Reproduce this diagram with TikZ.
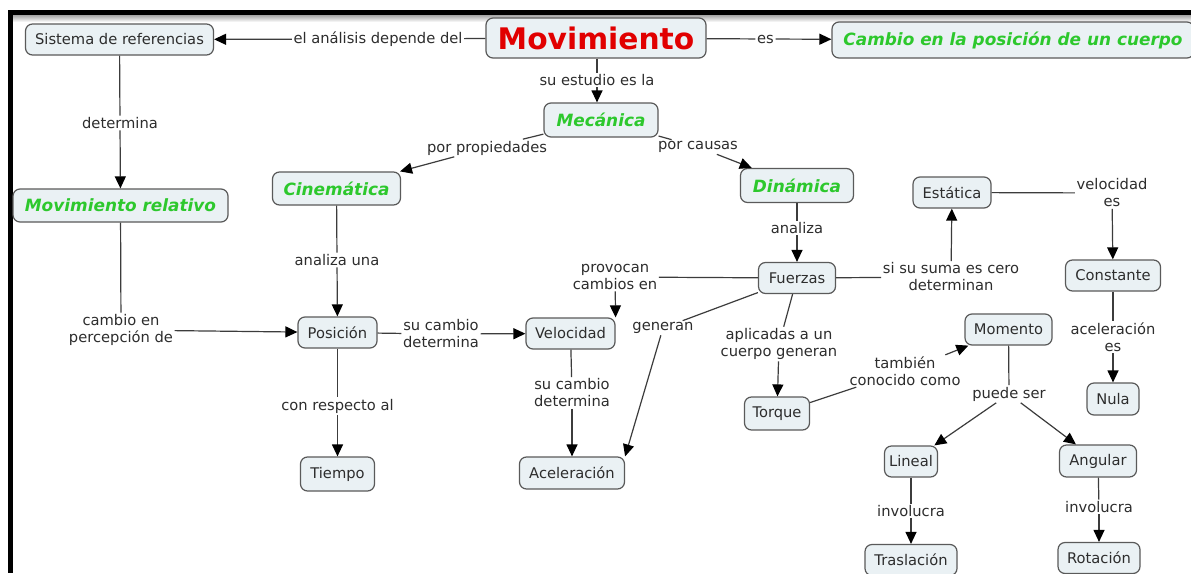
\documentclass[tikz,border=0pt]{standalone}
\usepackage{fontspec}
\setmainfont{DejaVu Sans}
\usetikzlibrary{arrows.meta}
\definecolor{cgreen}{RGB}{45,200,45}
\definecolor{cred}{RGB}{225,0,0}
\definecolor{ctext}{RGB}{45,45,45}
\definecolor{cfill}{RGB}{234,241,244}
\definecolor{cline}{RGB}{60,60,60}
\definecolor{cborder}{RGB}{90,90,90}
\begin{document}
\begin{tikzpicture}[x=1pt,y=-1pt,
 concept/.style={draw=cborder, line width=1.2pt, rounded corners=7pt, fill=cfill, inner sep=0pt, text=ctext, font=\fontsize{14.7}{17}\selectfont},
 keyc/.style={concept, text=cgreen, font=\fontsize{16.9}{20}\selectfont\bfseries\itshape},
 lab/.style={inner sep=1.5pt, align=center, text=ctext, font=\fontsize{14.7}{17}\selectfont},
 link/.style={draw=cline, line width=1.2pt},
 arr/.style={link, -{Triangle[length=12pt,width=11pt,color=black]}},
]
\useasboundingbox (0,0) rectangle (1191,573);
\fill[white] (0,0) rectangle (1191,573);
% frame
\shade[top color=black!35, bottom color=white] (13,15) rectangle (1191,22);
\fill[black] (8,10) rectangle (1191,15);
\fill[black] (8,10) rectangle (13,573);

% concepts
\node[concept, minimum width=188pt, minimum height=31pt] (sis) at (119.5,39.5) {Sistema de referencias};
\node[concept, minimum width=220pt, minimum height=40pt, text=cred, font=\fontsize{29.7}{32}\selectfont\bfseries] (mov) at (596,38) {Movimiento};
\node[keyc, minimum width=362pt, minimum height=36pt] (cam) at (1013,40) {Cambio en la posición de un cuerpo};
\node[keyc, minimum width=114pt, minimum height=34pt] (mec) at (601,120) {Mecánica};
\node[keyc, minimum width=128pt, minimum height=33pt] (cin) at (336.5,188.5) {Cinemática};
\node[keyc, minimum width=113pt, minimum height=34pt] (din) at (797,185.5) {Dinámica};
\node[keyc, minimum width=215pt, minimum height=33pt] (mrel) at (120.5,205.5) {Movimiento relativo};
\node[concept, minimum width=78pt, minimum height=31pt] (est) at (952,192.5) {Estática};
\node[concept, minimum width=77pt, minimum height=31pt] (fue) at (797,278) {Fuerzas};
\node[concept, minimum width=95pt, minimum height=31pt] (cons) at (1113,275.5) {Constante};
\node[concept, minimum width=79pt, minimum height=31pt] (pos) at (337.5,332.5) {Posición};
\node[concept, minimum width=89pt, minimum height=31pt] (vel) at (570.5,333.5) {Velocidad};
\node[concept, minimum width=87pt, minimum height=31pt] (mom) at (1008.5,329.5) {Momento};
\node[concept, minimum width=65pt, minimum height=33pt] (tor) at (777,413.5) {Torque};
\node[concept, minimum width=52pt, minimum height=32pt] (nula) at (1113,399) {Nula};
\node[concept, minimum width=74pt, minimum height=34pt] (tiem) at (337.5,474) {Tiempo};
\node[concept, minimum width=105pt, minimum height=32pt] (acel) at (572,473) {Aceleración};
\node[concept, minimum width=53pt, minimum height=31pt] (lin) at (911,461.5) {Lineal};
\node[concept, minimum width=77pt, minimum height=32pt] (ang) at (1098,461) {Angular};
\node[concept, minimum width=92pt, minimum height=31pt] (tras) at (911,560) {Traslación};
\node[concept, minimum width=82pt, minimum height=31pt] (rot) at (1099,558) {Rotación};

% linking phrases
\node[lab] (l1) at (378,39) {el análisis depende del};
\node[lab] (l2) at (765.5,39) {es};
\node[lab] (l3) at (597,80) {su estudio es la};
\node[lab] (l4) at (487,148) {por propiedades};
\node[lab] (l5) at (698,147) {por causas};
\node[lab] (l6) at (120,123) {determina};
\node[lab] (l7) at (337,260) {analiza una};
\node[lab] (l8) at (121,330) {cambio en\\percepción de};
\node[lab] (l9) at (441,334) {su cambio\\determina};
\node[lab] (l10) at (615,277) {provocan\\cambios en};
\node[lab] (l11) at (663,328) {generan};
\node[lab] (l12) at (779,344) {aplicadas a un\\cuerpo generan};
\node[lab] (l13) at (797,228) {analiza};
\node[lab] (l14) at (951,277) {si su suma es cero\\determinan};
\node[lab] (l15) at (1112,193) {velocidad\\es};
\node[lab] (l16) at (1113,337) {aceleración\\es};
\node[lab] (l17) at (905,371) {también\\conocido como};
\node[lab] (l18) at (1009,394) {puede ser};
\node[lab] (l19) at (337.5,406) {con respecto al};
\node[lab] (l20) at (572,393) {su cambio\\determina};
\node[lab] (l21) at (911,511) {involucra};
\node[lab] (l22) at (1099,507) {involucra};

% connectors
\draw[link] (mov) -- (l1); \draw[arr] (l1) -- (sis);
\draw[link] (mov) -- (l2); \draw[arr] (l2) -- (cam);
\draw[link] (l3 |- mov.south) -- (l3); \draw[arr] (l3) -- (l3 |- mec.north);
\draw[link] (mec) -- (l4); \draw[arr] (l4) -- (cin);
\draw[link] (mec) -- (l5); \draw[arr] (l5) -- (din);
\draw[link] (sis) -- (l6); \draw[arr] (l6) -- (mrel);
\draw[link] (cin) -- (l7); \draw[arr] (l7) -- (pos);
\draw[link] (mrel) -- (l8); \draw[arr] (l8) -- (pos);
\draw[link] (pos) -- (l9); \draw[arr] (l9) -- (vel);
\draw[link] (pos) -- (l19); \draw[arr] (l19) -- (tiem);
\draw[link] (vel) -- (l20); \draw[arr] (l20) -- (acel);
\draw[link] (din) -- (l13); \draw[arr] (l13) -- (fue);
\draw[link] (fue) -- (l10); \draw[arr] (l10) -- (vel.north east);
\draw[link] (fue) -- (l11); \draw[arr] (l11) -- (acel.north east);
\draw[link] (fue) -- (l12); \draw[arr] (l12) -- (tor);
\draw[link] (fue) -- (l14); \draw[arr] (l14) -- (est);
\draw[link] (est) -- (l15); \draw[arr] (l15) -- (cons);
\draw[link] (cons) -- (l16); \draw[arr] (l16) -- (nula);
\draw[link] (tor) -- (l17); \draw[arr] (l17) -- (mom);
\draw[link] (mom) -- (l18); \draw[arr] (l18) -- (lin); \draw[arr] (l18) -- (ang);
\draw[link] (lin) -- (l21); \draw[arr] (l21) -- (tras);
\draw[link] (ang) -- (l22); \draw[arr] (l22) -- (rot);
\end{tikzpicture}
\end{document}
